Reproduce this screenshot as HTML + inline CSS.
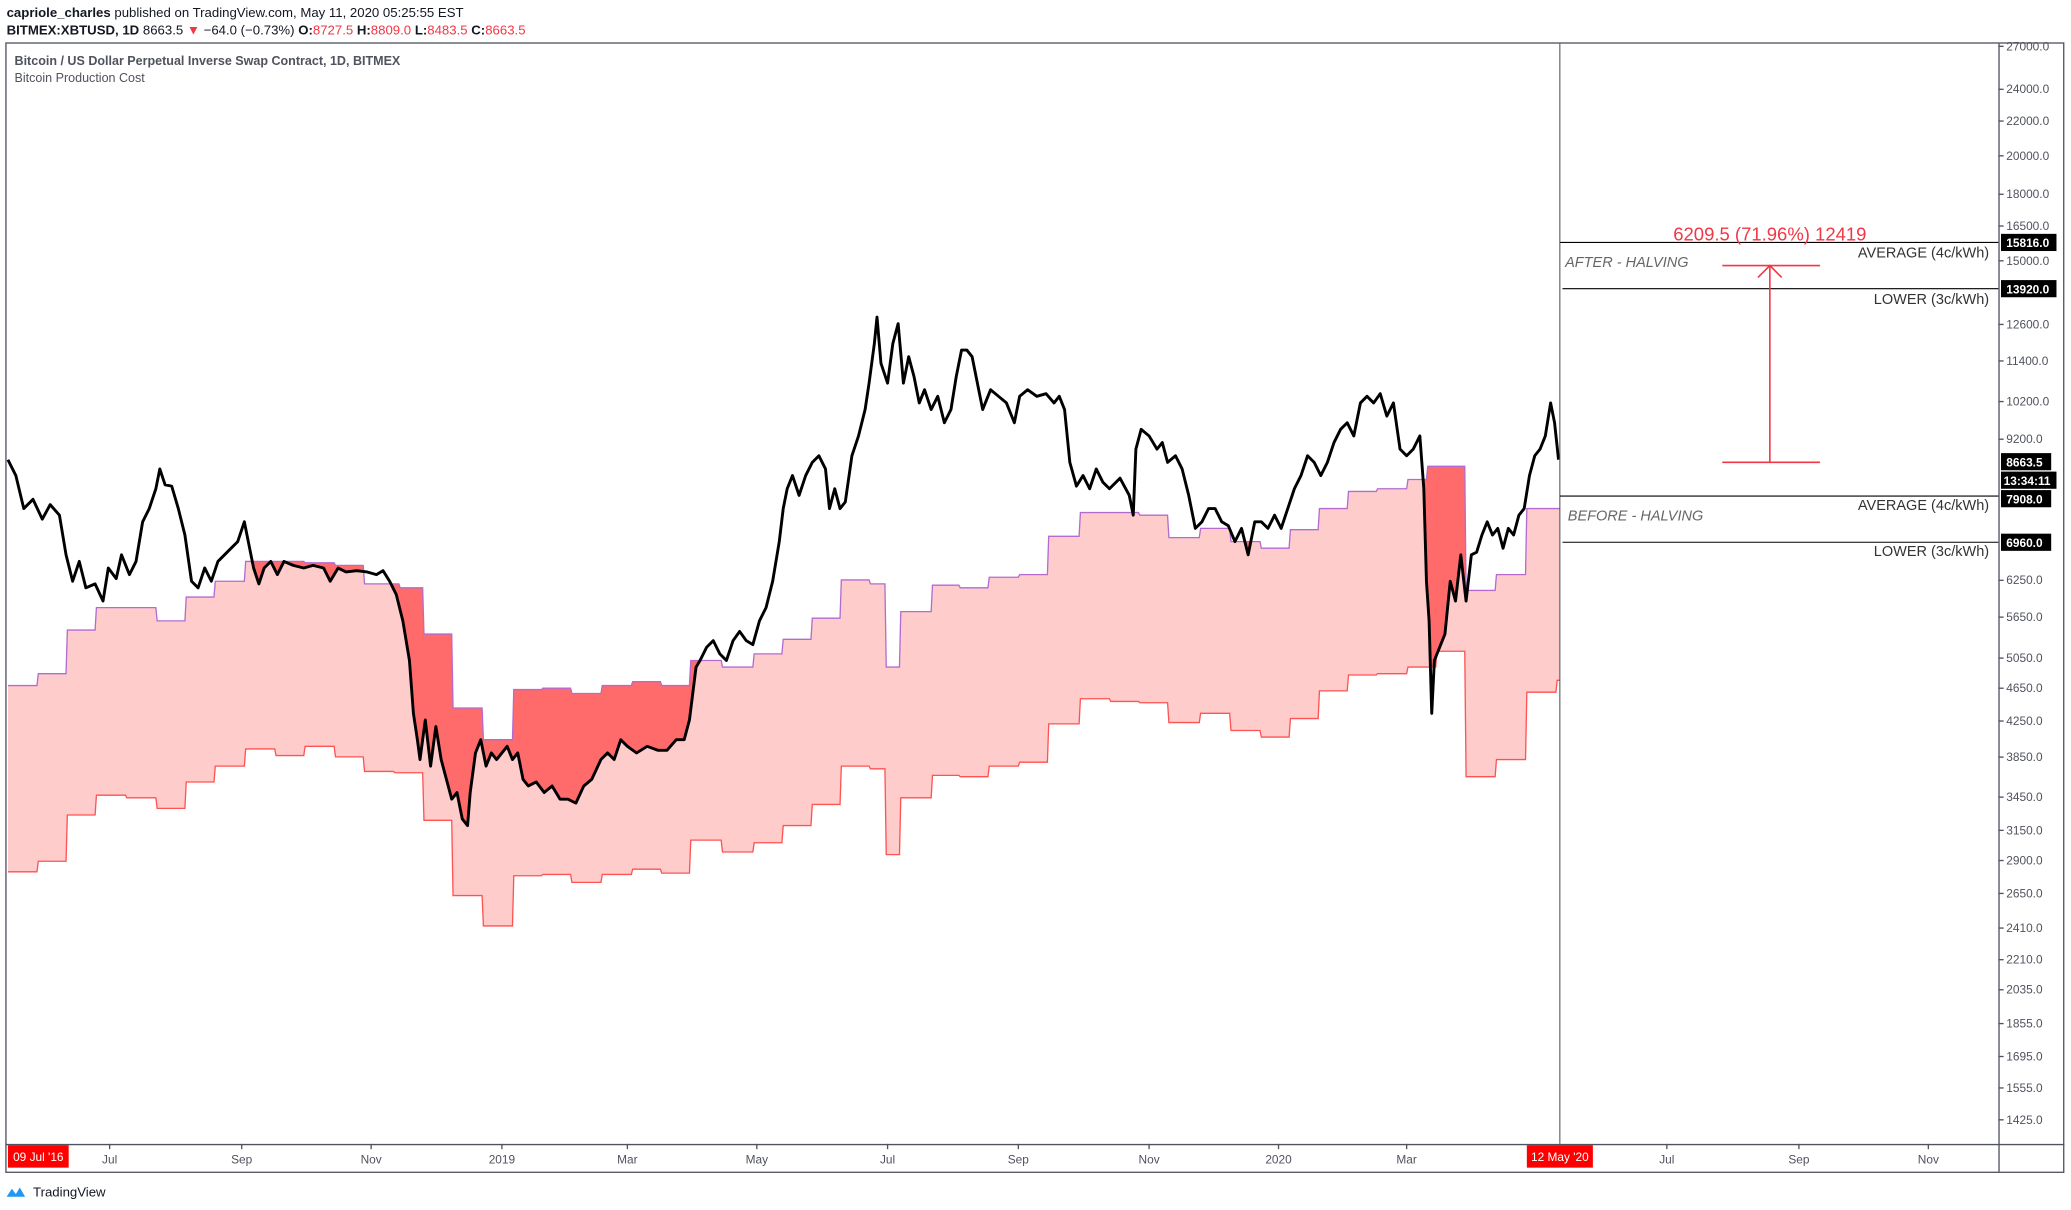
<!DOCTYPE html>
<html><head><meta charset="utf-8">
<style>
html,body{margin:0;padding:0;background:#fff;width:2071px;height:1210px;overflow:hidden}
svg{display:block}
text{font-family:"Liberation Sans",sans-serif}
</style></head><body>
<svg id="s" width="2071" height="1210" viewBox="0 0 1568 916" xmlns="http://www.w3.org/2000/svg">
<defs><clipPath id="abovePrice"><path id="cp" d=""/></clipPath></defs>
<rect width="1568" height="916" fill="#fff"/>
<text x="5" y="13" font-size="10" fill="#131722"><tspan font-weight="bold">capriole_charles</tspan> published on TradingView.com, May 11, 2020 05:25:55 EST</text>
<text x="5" y="26" font-size="10" fill="#131722"><tspan font-weight="bold">BITMEX:XBTUSD, 1D</tspan> 8663.5 <tspan fill="#f23645">▼</tspan> −64.0 (−0.73%) <tspan font-weight="bold">O:</tspan><tspan fill="#f23645">8727.5</tspan> <tspan font-weight="bold">H:</tspan><tspan fill="#f23645">8809.0</tspan> <tspan font-weight="bold">L:</tspan><tspan fill="#f23645">8483.5</tspan> <tspan font-weight="bold">C:</tspan><tspan fill="#f23645">8663.5</tspan></text>
<rect x="4.5" y="32.5" width="1558" height="855" fill="none" stroke="#50535e" stroke-width="1"/>
<g id="plot"></g>
<line x1="4.5" y1="866.5" x2="1563" y2="866.5" stroke="#50535e"/>
<line x1="1513.5" y1="33" x2="1513.5" y2="887" stroke="#50535e"/>
<line x1="1181" y1="33" x2="1181" y2="866" stroke="#555" stroke-width="0.8"/>
<text x="11" y="49" font-size="9.5" fill="#50535e" font-weight="bold">Bitcoin / US Dollar Perpetual Inverse Swap Contract, 1D, BITMEX</text>
<text x="11" y="62" font-size="9.5" fill="#50535e">Bitcoin Production Cost</text>
<g id="yax" font-size="9" fill="#50535e"></g>
<g id="xax" font-size="9" fill="#50535e" text-anchor="middle"></g>
<!-- right annotations -->
<line x1="1181" y1="183.5" x2="1513" y2="183.5" stroke="#000" stroke-width="0.8"/>
<line x1="1183" y1="218.5" x2="1513" y2="218.5" stroke="#000" stroke-width="0.8"/>
<line x1="1181" y1="375.5" x2="1513" y2="375.5" stroke="#000" stroke-width="0.8"/>
<line x1="1183" y1="410.5" x2="1513" y2="410.5" stroke="#000" stroke-width="0.8"/>
<g font-size="11" fill="#333" text-anchor="end">
<text x="1506" y="195">AVERAGE (4c/kWh)</text>
<text x="1506" y="230">LOWER (3c/kWh)</text>
<text x="1506" y="386">AVERAGE (4c/kWh)</text>
<text x="1506" y="421">LOWER (3c/kWh)</text>
</g>
<text x="1185" y="202" font-size="11" font-style="italic" fill="#666">AFTER - HALVING</text>
<text x="1187" y="394" font-size="11" font-style="italic" fill="#666">BEFORE - HALVING</text>
<g stroke="#f23645" stroke-width="1.2" fill="none">
<line x1="1340" y1="201" x2="1340" y2="350"/>
<line x1="1304" y1="201" x2="1378" y2="201"/>
<line x1="1304" y1="350" x2="1378" y2="350"/>
<polyline points="1331,210 1340,201 1349,210"/>
</g>
<text x="1340" y="182" font-size="14" fill="#f23645" text-anchor="middle">6209.5 (71.96%) 12419</text>
<g font-size="9" fill="#fff" font-weight="bold">
<rect x="1515" y="177" width="42" height="13" fill="#000"/><text x="1519" y="187">15816.0</text>
<rect x="1515" y="212" width="42" height="13" fill="#000"/><text x="1519" y="222">13920.0</text>
<rect x="1515" y="343" width="38" height="13" fill="#000"/><text x="1519" y="353">8663.5</text>
<rect x="1515" y="357" width="42" height="13" fill="#000"/><text x="1517" y="367">13:34:11</text>
<rect x="1515" y="371" width="38" height="13" fill="#000"/><text x="1519" y="381">7908.0</text>
<rect x="1515" y="404" width="38" height="13" fill="#000"/><text x="1519" y="414">6960.0</text>
</g>
<rect x="6" y="867" width="46" height="17" fill="#f00"/>
<text x="29" y="879" font-size="9" fill="#fff" text-anchor="middle">09 Jul '16</text>
<rect x="1156" y="867" width="50" height="17" fill="#f00"/>
<text x="1181" y="879" font-size="9" fill="#fff" text-anchor="middle">12 May '20</text>
<path d="M5,906 l4,-6 l3,4 l3,-5 l4,7 z" fill="#2196f3"/>
<text x="25" y="906" font-size="10" fill="#131722">TradingView</text>
</svg>
<script>
var NS="http://www.w3.org/2000/svg";
function yv(p){return 35+(Math.log(27000)-Math.log(p))*276.3;}
var ya=document.getElementById('yax');
[27000,24000,22000,20000,18000,16500,15000,12600,11400,10200,9200,6250,5650,5050,4650,4250,3850,3450,3150,2900,2650,2410,2210,2035,1855,1695,1555,1425].forEach(function(p){
 var y=yv(p);
 var l=document.createElementNS(NS,'line');l.setAttribute('x1',1513);l.setAttribute('x2',1517);l.setAttribute('y1',y);l.setAttribute('y2',y);l.setAttribute('stroke','#50535e');ya.appendChild(l);
 var t=document.createElementNS(NS,'text');t.setAttribute('x',1519);t.setAttribute('y',y+3);t.textContent=p.toFixed(1);ya.appendChild(t);
});
var xa=document.getElementById('xax');
[[83,'Jul'],[183,'Sep'],[281,'Nov'],[380,'2019'],[475,'Mar'],[573,'May'],[672,'Jul'],[771,'Sep'],[870,'Nov'],[968,'2020'],[1065,'Mar'],[1262,'Jul'],[1362,'Sep'],[1460,'Nov']].forEach(function(a){
 var l=document.createElementNS(NS,'line');l.setAttribute('x1',a[0]);l.setAttribute('x2',a[0]);l.setAttribute('y1',866);l.setAttribute('y2',870);l.setAttribute('stroke','#50535e');xa.appendChild(l);
 var t=document.createElementNS(NS,'text');t.setAttribute('x',a[0]);t.setAttribute('y',881);t.textContent=a[1];xa.appendChild(t);
});
// steps: [x_end, y]
var avg=[[28,519],[50,510],[72,477],[118,460],[140,470],[162,452],[185,440],[208,425],[230,425],[253,426],[275,428],[302,442],[320,445],[342,480],[365,536],[388,560],[410,522],[432,521],[455,525],[478,519],[500,516],[522,519],[546,500],[570,505],[592,495],[614,484],[636,468],[658,439],[670,442],[681,505],[705,463],[726,443],[748,445],[771,437],[793,435],[817,406],[840,388],[862,388],[884,390],[908,407],[931,400],[954,410],[976,415],[998,401],[1020,385],[1042,372],[1065,370],[1080,363],[1109,353],[1132,447],[1155,435],[1181,385]];
var low=[[28,660],[50,652],[72,617],[95,602],[118,604],[140,612],[162,592],[185,580],[208,567],[230,572],[253,565],[275,573],[298,584],[320,585],[342,621],[365,678],[388,701],[410,663],[432,662],[455,668],[478,662],[500,658],[522,661],[546,636],[570,645],[592,638],[614,625],[636,609],[658,580],[670,582],[681,647],[705,604],[726,587],[748,588],[771,580],[793,577],[817,548],[840,529],[862,531],[884,532],[908,547],[931,540],[954,553],[976,558],[998,544],[1020,523],[1042,511],[1065,510],[1087,505],[1109,493],[1132,588],[1155,575],[1178,524],[1181,515]];
function stepPts(a){var pts=[],x0=6;a.forEach(function(s,i){pts.push([i==0?x0:x0+1,s[1]]);pts.push([s[0],s[1]]);x0=s[0];});return pts;}
var A=stepPts(avg),L=stepPts(low);
function ps(p){return p.map(function(q){return q[0]+','+q[1];}).join(' ');}
var price=[[6,348],[12,360],[18,385],[25,378],[32,393],[38,382],[45,390],[50,420],[55,440],[60,425],[65,445],[72,442],[78,455],[82,430],[88,438],[92,420],[98,435],[103,425],[108,395],[113,385],[118,370],[121,355],[125,367],[130,368],[135,385],[140,405],[145,440],[150,445],[155,430],[160,440],[165,425],[170,420],[175,415],[180,410],[185,395],[188,410],[192,430],[196,442],[200,430],[205,425],[210,435],[215,425],[222,428],[230,430],[237,428],[245,430],[250,440],[256,430],[262,433],[270,432],[278,433],[285,435],[290,432],[295,440],[300,450],[305,470],[310,500],[313,540],[316,560],[318,575],[322,545],[326,580],[330,550],[334,575],[338,590],[342,605],[346,600],[350,620],[354,625],[356,600],[360,570],[364,560],[368,580],[372,570],[376,575],[380,570],[384,565],[388,575],[392,570],[396,590],[400,595],[406,592],[412,600],[418,595],[424,605],[430,605],[436,608],[442,595],[448,590],[455,575],[460,570],[465,575],[470,560],[475,565],[482,570],[490,565],[498,568],[505,568],[512,560],[518,560],[522,545],[527,505],[530,500],[535,490],[540,485],[545,495],[550,500],[555,485],[560,478],[565,485],[570,488],[575,470],[580,460],[585,440],[590,410],[593,385],[596,370],[600,360],[605,375],[610,360],[615,350],[620,345],[625,355],[628,385],[632,370],[636,385],[640,380],[645,345],[650,330],[655,310],[658,290],[662,260],[664,240],[667,275],[672,290],[676,260],[680,245],[684,290],[688,270],[692,285],[696,305],[700,295],[705,310],[710,300],[715,320],[720,310],[724,285],[728,265],[732,265],[736,270],[740,290],[744,310],[750,295],[756,300],[762,305],[768,320],[772,300],[778,295],[785,300],[792,298],[798,305],[802,300],[806,310],[810,350],[815,368],[820,360],[825,370],[830,355],[835,365],[840,370],[848,362],[855,375],[858,390],[860,340],[864,325],[870,330],[876,340],[880,335],[884,350],[890,345],[895,355],[900,375],[905,400],[910,395],[915,385],[920,385],[925,395],[930,398],[935,410],[940,400],[945,420],[950,395],[955,395],[960,400],[965,390],[970,400],[975,385],[980,370],[985,360],[990,345],[995,350],[1000,360],[1005,350],[1010,335],[1015,325],[1020,320],[1025,330],[1030,305],[1035,300],[1040,305],[1045,298],[1050,315],[1055,305],[1060,340],[1065,345],[1070,340],[1075,330],[1078,370],[1080,440],[1082,470],[1084,540],[1086,500],[1090,490],[1094,480],[1098,440],[1102,455],[1106,420],[1110,455],[1114,420],[1118,418],[1122,405],[1126,395],[1130,405],[1134,400],[1138,415],[1142,400],[1146,405],[1150,390],[1154,385],[1158,360],[1162,345],[1166,340],[1170,330],[1174,305],[1177,320],[1180,348]];
var g=document.getElementById('plot');
function add(tag,at){var e=document.createElementNS(NS,tag);for(var k in at)e.setAttribute(k,at[k]);g.appendChild(e);return e;}
var band=A.concat(L.slice().reverse());
add('polygon',{points:ps(band),fill:'#ffcccc'});
document.getElementById('cp').setAttribute('d','M6,0 L'+ps(price).replace(/ /g,' L')+' L1181,0 Z');
add('polygon',{points:ps(band),fill:'#ff6b6b','clip-path':'url(#abovePrice)'});
add('polyline',{points:ps(A),fill:'none',stroke:'#b36bd0','stroke-width':1});
add('polyline',{points:ps(L),fill:'none',stroke:'#ff5252','stroke-width':1});
add('polyline',{points:ps(price),fill:'none',stroke:'#000','stroke-width':2.2,'stroke-linejoin':'round'});
</script>
</body></html>
